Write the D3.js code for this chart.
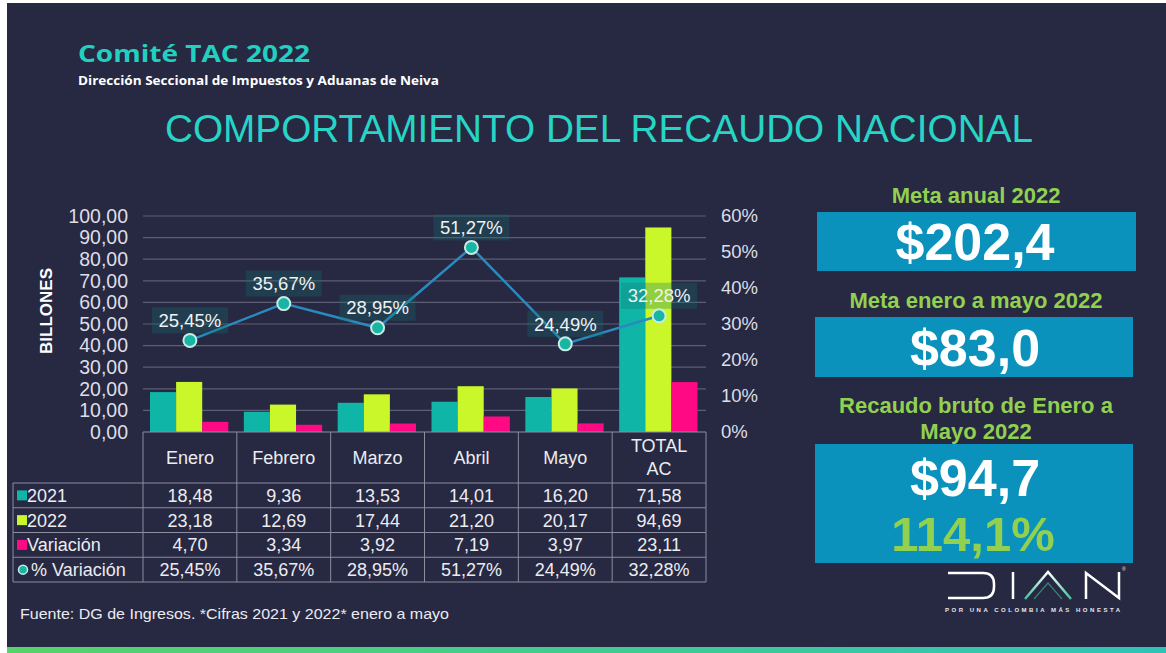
<!DOCTYPE html>
<html>
<head>
<meta charset="utf-8">
<script src="https://cdn.jsdelivr.net/npm/d3@7"></script>
<style>
  html, body { margin: 0; padding: 0; background: #ffffff; }
  svg { display: block; }
  text { font-family: Arial, "Liberation Sans", sans-serif; }
</style>
</head>
<body>
<script>
// datos del recaudo (billones)
const categories = ["Enero", "Febrero", "Marzo", "Abril", "Mayo", "TOTAL AC"];
const seriesNames = ["2021", "2022", "Variación"];
const values2021 = [18.48, 9.36, 13.53, 14.01, 16.20, 71.58];
const values2022 = [23.18, 12.69, 17.44, 21.20, 20.17, 94.69];
const variacion = [4.70, 3.34, 3.92, 7.19, 3.97, 23.11];
const pctVariacion = [25.45, 35.67, 28.95, 51.27, 24.49, 32.28];
const leftTicks = [0, 10, 20, 30, 40, 50, 60, 70, 80, 90, 100];
const rightTicks = [0, 10, 20, 30, 40, 50, 60];

// panel derecho
const kpiTitles = ["Meta anual 2022", "Meta enero a mayo 2022", "Recaudo bruto de Enero a|Mayo 2022"];
const kpiValues = ["$202,4", "$83,0", "$94,7"];
const kpiPct = "114,1%";

const width = 1166;
const height = 653;
const colors = { "2021": "#0fb5a6", "2022": "#c9f72a", "Variación": "#ff0a84" };
const bg = "#272842";
const teal = "#22d0c0";
const green = "#92d050";

const loc = d3.formatLocale({ decimal: ",", thousands: ".", grouping: [3], currency: ["$", ""] });
const fmt2 = loc.format(".2f");
const fmtPct = v => loc.format(".2f")(v) + "%";

const svg = d3.select("body").append("svg").attr("width", width).attr("height", height);

// fondo de la diapositiva
svg.append("rect").attr("x", 7).attr("y", 3).attr("width", width - 7).attr("height", height - 3).attr("fill", bg);
const defs = svg.append("defs");
const grad = defs.append("linearGradient").attr("id", "barra");
grad.append("stop").attr("offset", "0%").attr("stop-color", "#56d36a");
grad.append("stop").attr("offset", "100%").attr("stop-color", "#2ec3b8");
svg.append("rect").attr("x", 7).attr("y", 647).attr("width", width - 7).attr("height", 6).attr("fill", "url(#barra)");

// encabezado
svg.append("text").attr("x", 78).attr("y", 62).attr("fill", teal)
  .style("font-family", "'Open Sans', sans-serif").style("font-weight", 700).style("font-size", "24px")
  .attr("textLength", 232).attr("lengthAdjust", "spacingAndGlyphs")
  .text("Comité TAC 2022");
svg.append("text").attr("x", 78).attr("y", 85).attr("fill", "#ffffff")
  .style("font-family", "'Open Sans', sans-serif").style("font-weight", 700).style("font-size", "11.5px")
  .attr("textLength", 361).attr("lengthAdjust", "spacingAndGlyphs")
  .text("Dirección Seccional de Impuestos y Aduanas de Neiva");
svg.append("text").attr("x", 599).attr("y", 142).attr("text-anchor", "middle").attr("fill", "#26d5c6")
  .style("font-size", "39px")
  .attr("textLength", 868).attr("lengthAdjust", "spacingAndGlyphs")
  .text("COMPORTAMIENTO DEL RECAUDO NACIONAL");

/** escalas */
const plot = { left: 143, right: 706, top: 216, bottom: 432 };
const x = d3.scaleBand().domain(categories).range([plot.left, plot.right]);
const xs = d3.scaleBand().domain(seriesNames).range([7, x.bandwidth() - 8.5]);
const y = d3.scaleLinear().domain([0, 100]).range([plot.bottom, plot.top]);
const yP = d3.scaleLinear().domain([0, 60]).range([plot.bottom, plot.top]);

// lineas de cuadricula
svg.append("g")
  .selectAll("line").data(leftTicks.filter(d => d > 0)).join("line")
  .attr("x1", plot.left).attr("x2", plot.right)
  .attr("y1", d => y(d)).attr("y2", d => y(d))
  .attr("stroke", "#5d5e74").attr("stroke-width", 1.2);

// eje izquierdo
const axL = svg.append("g").attr("transform", "translate(" + 128 + ",0)")
  .call(d3.axisLeft(y).tickValues(leftTicks).tickSize(0).tickPadding(0).tickFormat(fmt2));
axL.select(".domain").remove();
axL.selectAll("text").attr("fill", "#dedee4").style("font-size", "19.5px").style("font-family", "Arial, sans-serif");

// eje derecho
const axR = svg.append("g").attr("transform", "translate(" + 721 + ",0)")
  .call(d3.axisRight(yP).tickValues(rightTicks).tickSize(0).tickPadding(0).tickFormat(d => d + "%"));
axR.select(".domain").remove();
axR.selectAll("text").attr("fill", "#dedee4").style("font-size", "18.5px").style("font-family", "Arial, sans-serif");

svg.append("text").attr("transform", "translate(52,311) rotate(-90)").attr("text-anchor", "middle")
  .attr("fill", "#ffffff").style("font-weight", 700).style("font-size", "17px").text("BILLONES");

/** barras */
const table = categories.map((c, i) => ({ cat: c, "2021": values2021[i], "2022": values2022[i], "Variación": variacion[i], pct: pctVariacion[i] }));
const groups = svg.append("g").selectAll("g").data(table).join("g")
  .attr("transform", d => "translate(" + x(d.cat) + ",0)");
groups.selectAll("rect").data(d => seriesNames.map(s => ({ s: s, v: d[s] }))).join("rect")
  .attr("x", d => xs(d.s))
  .attr("width", xs.bandwidth())
  .attr("y", d => y(d.v))
  .attr("height", d => y(0) - y(d.v))
  .attr("fill", d => colors[d.s]);

/** linea % variacion */
const line = d3.line()
  .x(d => x(d.cat) + x.bandwidth() / 2)
  .y(d => yP(d.pct));
svg.append("path").datum(table).attr("d", line)
  .attr("fill", "none").attr("stroke", "#2a8abf").attr("stroke-width", 2.5);

const lbl = svg.append("g").selectAll("g").data(table).join("g")
  .attr("transform", d => "translate(" + (x(d.cat) + x.bandwidth() / 2) + "," + (yP(d.pct) - 20) + ")");
lbl.append("rect").attr("x", -38).attr("y", -13).attr("width", 76).attr("height", 26)
  .attr("fill", "#12746e").attr("opacity", 0.3);
lbl.append("text").attr("text-anchor", "middle").attr("dy", "0.36em")
  .attr("fill", "#f2f2f2").style("font-size", "18.5px").text(d => fmtPct(d.pct));

svg.append("g").selectAll("circle").data(table).join("circle")
  .attr("cx", d => x(d.cat) + x.bandwidth() / 2)
  .attr("cy", d => yP(d.pct))
  .attr("r", 6.5)
  .attr("fill", "#17b5a4").attr("stroke", "#c9ebe6").attr("stroke-width", 2);

/** tabla de datos */
const tb = svg.append("g");
const rowTop = 483, rowH = 24.75;
const rows = [
  { name: "2021", vals: values2021, f: fmt2, mark: "sq", color: colors["2021"] },
  { name: "2022", vals: values2022, f: fmt2, mark: "sq", color: colors["2022"] },
  { name: "Variación", vals: variacion, f: fmt2, mark: "sq", color: colors["Variación"] },
  { name: "% Variación", vals: pctVariacion, f: fmtPct, mark: "ci", color: "#17b5a4" }
];
const lineColor = "#8d8d9d";
const tableBottom = rowTop + rowH * rows.length;
// verticales
tb.selectAll("line.v").data(categories.map(c => x(c)).concat([plot.right])).join("line")
  .attr("x1", d => d).attr("x2", d => d).attr("y1", plot.bottom).attr("y2", tableBottom)
  .attr("stroke", lineColor).attr("stroke-width", 1);
tb.append("line").attr("x1", 13).attr("x2", 13).attr("y1", rowTop).attr("y2", tableBottom)
  .attr("stroke", lineColor).attr("stroke-width", 1);
// horizontales
tb.append("line").attr("x1", plot.left).attr("x2", plot.right).attr("y1", plot.bottom).attr("y2", plot.bottom)
  .attr("stroke", lineColor).attr("stroke-width", 1.2);
tb.selectAll("line.h").data(d3.range(rows.length + 1)).join("line")
  .attr("x1", 13).attr("x2", plot.right)
  .attr("y1", d => rowTop + d * rowH).attr("y2", d => rowTop + d * rowH)
  .attr("stroke", lineColor).attr("stroke-width", 1);

// encabezados de columna
categories.forEach(c => {
  const parts = c === "TOTAL AC" ? ["TOTAL", "AC"] : [c];
  const cy = (plot.bottom + rowTop) / 2;
  parts.forEach((p, k) => {
    tb.append("text").attr("x", x(c) + x.bandwidth() / 2)
      .attr("y", cy + (k - (parts.length - 1) / 2) * 23).attr("dy", "0.36em")
      .attr("text-anchor", "middle").attr("fill", "#ececf0").style("font-size", "18px").text(p);
  });
});

rows.forEach((r, i) => {
  const cy = rowTop + rowH * i + rowH / 2;
  if (r.mark === "sq") {
    tb.append("rect").attr("x", 17).attr("y", cy - 5).attr("width", 10).attr("height", 10).attr("fill", r.color);
  } else {
    tb.append("circle").attr("cx", 23).attr("cy", cy).attr("r", 4.5).attr("fill", r.color)
      .attr("stroke", "#c9ebe6").attr("stroke-width", 1.5);
  }
  tb.append("text").attr("x", r.mark === "sq" ? 27 : 31).attr("y", cy).attr("dy", "0.36em")
    .attr("fill", "#ececf0").style("font-size", "18px").text(r.name);
  r.vals.forEach((v, j) => {
    tb.append("text").attr("x", x(categories[j]) + x.bandwidth() / 2).attr("y", cy).attr("dy", "0.36em")
      .attr("text-anchor", "middle").attr("fill", "#ececf0").style("font-size", "18px").text(r.f(v));
  });
});

// fuente
svg.append("text").attr("x", 20).attr("y", 619).attr("fill", "#ececf0")
  .style("font-size", "15px").attr("textLength", 429).attr("lengthAdjust", "spacingAndGlyphs")
  .text("Fuente: DG de Ingresos. *Cifras 2021 y 2022* enero a mayo");

/** panel derecho */
const kpi = svg.append("g");
const boxes = [
  { x: 817, y: 212, w: 319, h: 59, ty: 203 },
  { x: 815, y: 317, w: 318, h: 60, ty: 308 },
  { x: 815, y: 444, w: 318, h: 119, ty: 413 }
];
const cx = 975;
boxes.forEach((b, i) => {
  const lines = kpiTitles[i].split("|");
  lines.forEach((t, k) => {
    kpi.append("text").attr("x", cx + 1).attr("y", b.ty + k * 26)
      .attr("text-anchor", "middle").attr("fill", green)
      .style("font-weight", 700).style("font-size", "22px").text(t);
  });
  kpi.append("rect").attr("x", b.x).attr("y", b.y).attr("width", b.w).attr("height", b.h).attr("fill", "#0a92bc");
  kpi.append("text").attr("x", cx).attr("y", i < 2 ? b.y + b.h / 2 : b.y + 33).attr("dy", "0.36em")
    .attr("text-anchor", "middle").attr("fill", "#ffffff")
    .style("font-weight", 700).style("font-size", "52px").text(kpiValues[i]);
});
kpi.append("text").attr("x", cx - 2).attr("y", 533).attr("dy", "0.36em")
  .attr("text-anchor", "middle").attr("fill", green)
  .style("font-weight", 700).style("font-size", "49px").text(kpiPct);

// logo DIAN
const logo = svg.append("g").attr("fill", "none").attr("stroke", "#ffffff").attr("stroke-width", 2.5);
const lg = defs.append("linearGradient").attr("id", "logoA").attr("x1", 0).attr("x2", 0).attr("y1", 0).attr("y2", 1);
lg.append("stop").attr("offset", "0%").attr("stop-color", "#ffffff");
lg.append("stop").attr("offset", "100%").attr("stop-color", "#3fbf9a");
logo.append("path").attr("d", "M948,573 H983 Q994,573 994,584 V587 Q994,598 983,598 H948");
logo.append("path").attr("d", "M1013,572 V599");
logo.append("path").attr("d", "M1025,599 L1048,572 L1071,599").attr("stroke", "url(#logoA)");
logo.append("path").attr("d", "M1034,599 L1048,583 L1062,599").attr("stroke", "#3fbf9a").attr("stroke-width", 1.2).attr("opacity", 0.6);
logo.append("path").attr("d", "M1086,599 V573 L1119,598 V572");
svg.append("text").attr("x", 945).attr("y", 612).attr("fill", "#e8e8ee")
  .style("font-weight", 700).style("font-size", "6px").attr("textLength", 175).attr("lengthAdjust", "spacing")
  .text("POR UNA COLOMBIA MÁS HONESTA");
svg.append("text").attr("x", 1122).attr("y", 571).attr("fill", "#e8e8ee").style("font-size", "5px").text("®");
</script>
</body>
</html>
